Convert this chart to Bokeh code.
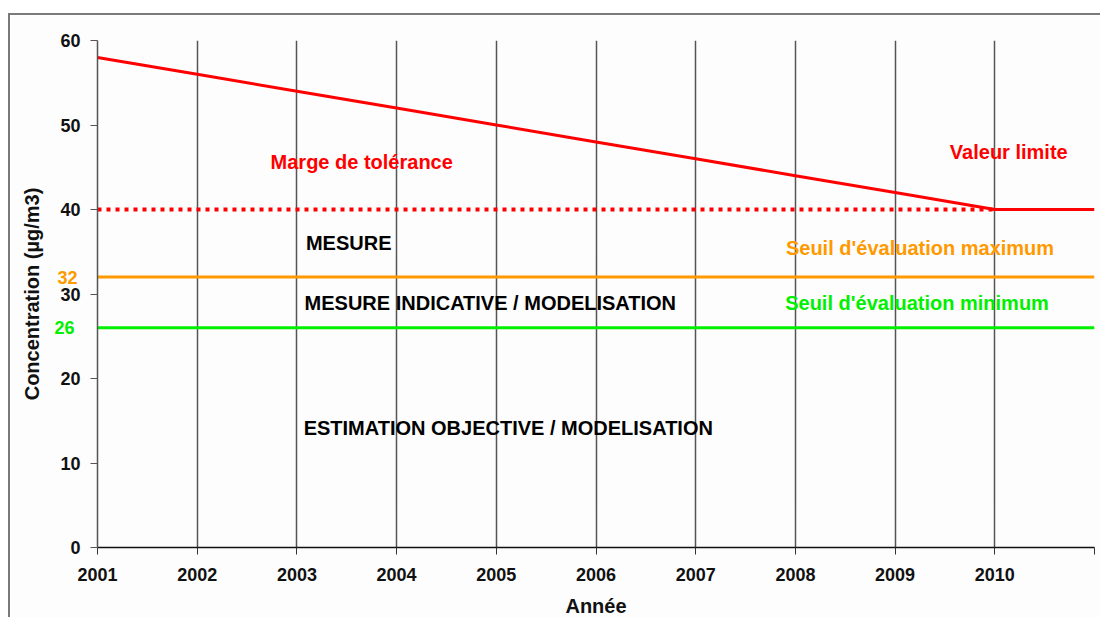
from bokeh.plotting import figure
from bokeh.models import Range1d, FixedTicker, Label, LinearAxis
from bokeh.embed import file_html
from bokeh.resources import INLINE

# ---- data ----
years = [2001, 2002, 2003, 2004, 2005, 2006, 2007, 2008, 2009, 2010, 2011]
limit_values = [58, 56, 54, 52, 50, 48, 46, 44, 42, 40, 40]
limit_value_final = 40
seuil_max = 32
seuil_min = 26
y_ticks = [0, 10, 20, 30, 40, 50, 60]
x_tick_labels = {2001: "2001", 2002: "2002", 2003: "2003", 2004: "2004", 2005: "2005",
                 2006: "2006", 2007: "2007", 2008: "2008", 2009: "2009", 2010: "2010", 2011: ""}

FONT = "Liberation Sans"
RED = "#FF0000"
ORANGE = "#FF9900"
GREEN = "#00F000"
TICK_FONT_SIZE = 18
LABEL_W = 20  # width of a two-digit bold label at 18px

W, H = 1092, 604
p = figure(width=W, height=H, output_backend="svg", toolbar_location=None,
           x_range=Range1d(2001, 2011), y_range=Range1d(0, 60),
           min_border_left=87, min_border_right=8, min_border_top=25, min_border_bottom=72)
p.margin = (13, 0, 0, 8)
p.styles = {"border-top": "2px solid #7a7a7a", "border-left": "2px solid #7a7a7a"}
p.outline_line_color = None
p.background_fill_color = "#FDFDFD"
p.border_fill_color = "#FDFDFD"

# axes
p.xaxis.ticker = FixedTicker(ticks=years)
p.xaxis.major_label_overrides = x_tick_labels
p.yaxis.ticker = FixedTicker(ticks=y_ticks)
for ax in (p.xaxis[0], p.yaxis[0]):
    ax.major_tick_out = 7
    ax.major_tick_in = 0
    ax.minor_tick_line_color = None
    ax.major_label_text_font = FONT
    ax.major_label_text_font_style = "bold"
    ax.major_label_text_font_size = f"{TICK_FONT_SIZE}px"
    ax.major_label_text_color = "#111111"
    ax.axis_label_text_font = FONT
    ax.axis_label_text_font_style = "bold"
    ax.axis_label_text_font_size = "20px"
    ax.axis_label_text_color = "#111111"
p.xaxis.axis_line_color = "#111111"
p.xaxis.axis_line_width = 1.5
p.xaxis.major_tick_line_color = "#333333"
p.xaxis.major_label_standoff = 13
p.xaxis.axis_label = "Année"
p.xaxis.axis_label_standoff = 11
p.yaxis.axis_line_color = "#555555"
p.yaxis.axis_line_width = 1.5
p.yaxis.major_tick_line_color = "#555555"
p.yaxis.major_label_standoff = 10

# colored tick labels 32 and 26: zero-width axes whose labels fall back onto the main label column
for val, col in ((seuil_max, ORANGE), (seuil_min, GREEN)):
    extra = LinearAxis(ticker=FixedTicker(ticks=[val]))
    extra.axis_line_color = None
    extra.major_tick_line_color = None
    extra.minor_tick_line_color = None
    extra.major_tick_out = 0
    extra.major_tick_in = 0
    extra.major_label_standoff = -LABEL_W
    extra.major_label_text_font = FONT
    extra.major_label_text_font_style = "bold"
    extra.major_label_text_font_size = f"{TICK_FONT_SIZE}px"
    extra.major_label_text_color = col
    p.add_layout(extra, "left")

# outer axis carrying only the y title
title_axis = LinearAxis(ticker=FixedTicker(ticks=[]), axis_label="Concentration (µg/m3)")
title_axis.axis_line_color = None
title_axis.major_tick_line_color = None
title_axis.minor_tick_line_color = None
title_axis.major_tick_out = 0
title_axis.major_tick_in = 0
title_axis.major_label_standoff = 0
title_axis.axis_label_standoff = 9
title_axis.axis_label_text_font = FONT
title_axis.axis_label_text_font_style = "bold"
title_axis.axis_label_text_font_size = "20px"
title_axis.axis_label_text_color = "#111111"
p.add_layout(title_axis, "left")

# grid
p.xgrid.ticker = FixedTicker(ticks=years)
p.xgrid.grid_line_color = "#555555"
p.xgrid.grid_line_width = 1.5
p.ygrid.grid_line_color = None

# lines
p.line([years[0], years[-1]], [seuil_min, seuil_min], line_color=GREEN, line_width=3)
p.line([years[0], years[-1]], [seuil_max, seuil_max], line_color=ORANGE, line_width=3)
p.line([years[0], years[-2]], [limit_value_final, limit_value_final], line_color=RED,
       line_width=4, line_dash="4 5")
p.line(years, limit_values, line_color=RED, line_width=3)

annotations = [
    ("Marge de tolérance", 2003.65, 45.6, RED),
    ("Valeur limite", 2010.14, 46.75, RED),
    ("MESURE", 2003.52, 36.0, "#000000"),
    ("MESURE INDICATIVE / MODELISATION", 2004.94, 28.9, "#000000"),
    ("Seuil d'évaluation maximum", 2009.25, 35.4, ORANGE),
    ("Seuil d'évaluation minimum", 2009.22, 28.9, GREEN),
    ("ESTIMATION OBJECTIVE / MODELISATION", 2005.12, 14.2, "#000000"),
]
for t, x, y, c in annotations:
    p.add_layout(Label(x=x, y=y, text=t, text_align="center", text_baseline="middle",
                       text_color=c, text_font=FONT, text_font_style="bold",
                       text_font_size="20px"))

open("out.html", "w").write(file_html(p, INLINE))
